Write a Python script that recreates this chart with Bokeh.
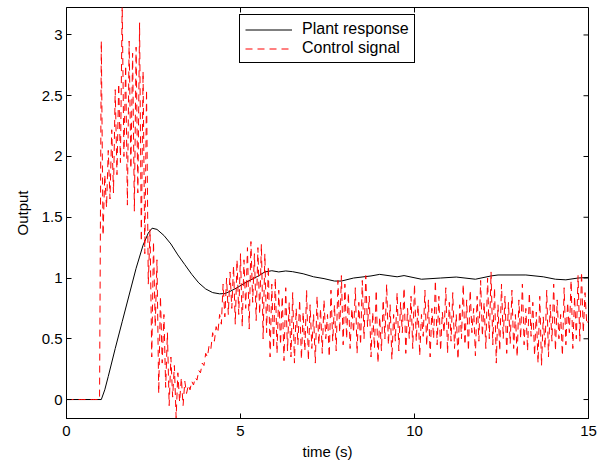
import numpy as np
from bokeh.plotting import figure
from bokeh.models import Range1d, FixedTicker, Legend, LegendItem
from bokeh.embed import file_html
from bokeh.resources import INLINE

# ---------------- data ----------------
dt_control = 0.05  # sample spacing of the control signal (s)
control = [
    0, 0, 0, 0, 0, 0, 0, 0, 0, 0,
    0, 0, 0, 0, 0, 0, 0, 0, 0, 0,
    2.95, 1.35, 1.85, 1.58, 2.05, 1.65, 2.22, 1.7, 2.55, 1.85,
    2.6, 1.95, 3.25, 2.0, 2.75, 1.6, 2.95, 1.9, 2.85, 1.55,
    2.9, 1.7, 3.1, 1.3, 2.7, 1.2, 2.55, 0.95, 1.4, 0.35,
    1.3, 0.6, 1.15, 0.05, 0.85, 0.3, 0.7, 0.1, 0.55, -0.05,
    0.35, 0.02, 0.28, -0.15, 0.22, -0.02, 0.18, -0.05, 0.15, 0.05,
    0.12, 0.08, 0.15, 0.12, 0.18, 0.16, 0.24, 0.22, 0.3, 0.28,
    0.38, 0.35, 0.45, 0.42, 0.55, 0.48, 0.6, 0.55, 0.7, 0.62,
    0.95, 0.68, 1.0, 0.7, 1.05, 0.75, 1.1, 0.62, 1.15, 0.7,
    1.2, 0.6, 1.15, 0.75, 1.25, 0.58, 1.3, 0.8, 1.2, 0.65,
    1.25, 0.7, 1.28, 0.5, 1.2, 0.55, 1.1, 0.35, 0.95, 0.42,
    1.0, 0.38, 0.9, 0.45, 0.85, 0.32, 0.92, 0.4, 0.8, 0.35,
    0.88, 0.3, 0.75, 0.45, 0.82, 0.33, 0.72, 0.4, 0.9, 0.32,
    0.78, 0.42, 0.7, 0.3, 0.85, 0.45, 0.75, 0.38, 0.82, 0.5,
    0.7, 0.35, 0.9, 0.48, 0.78, 0.4, 0.98, 0.55, 1.02, 0.45,
    0.95, 0.5, 0.88, 0.42, 0.75, 0.55, 0.92, 0.38, 0.8, 0.45,
    0.98, 0.5, 1.02, 0.6, 0.85, 0.35, 0.72, 0.42, 0.9, 0.3,
    0.68, 0.4, 0.82, 0.5, 0.95, 0.45, 0.78, 0.33, 0.7, 0.48,
    0.88, 0.4, 0.8, 0.55, 0.92, 0.38, 0.75, 0.5, 0.85, 0.42,
    0.95, 0.48, 0.78, 0.36, 0.7, 0.52, 0.9, 0.44, 0.82, 0.35,
    0.75, 0.5, 0.98, 0.45, 0.85, 0.4, 0.72, 0.55, 0.92, 0.38,
    0.8, 0.48, 0.88, 0.42, 0.7, 0.33, 0.78, 0.5, 0.95, 0.45,
    0.82, 0.4, 0.9, 0.55, 0.75, 0.36, 0.85, 0.48, 0.98, 0.52,
    0.8, 0.42, 1.0, 0.5, 1.05, 0.45, 0.92, 0.3, 0.78, 0.4,
    0.95, 0.5, 0.85, 0.38, 0.8, 0.46, 0.9, 0.42, 0.7, 0.35,
    0.82, 0.5, 0.95, 0.45, 0.75, 0.4, 0.88, 0.52, 0.8, 0.36,
    0.72, 0.3, 0.85, 0.28, 0.68, 0.42, 0.9, 0.35, 0.78, 0.48,
    0.95, 0.4, 0.82, 0.5, 0.7, 0.36, 0.92, 0.45, 0.8, 0.55,
    0.98, 0.42, 0.85, 0.5, 1.02, 0.48, 1.05, 0.55, 0.88, 0.62,
    0.65,
]
t_control = np.arange(len(control)) * dt_control

t_plant = [0, 1.0, 1.1, 1.2, 1.4, 1.6, 1.8, 2.0, 2.2, 2.35, 2.46, 2.6, 2.8,
           3.0, 3.2, 3.4, 3.6, 3.8, 4.0, 4.2, 4.4, 4.55, 4.7, 4.9, 5.1, 5.3,
           5.5, 5.7, 5.9, 6.1, 6.3, 6.5, 6.8, 7.1, 7.4, 7.7, 7.9, 8.25, 8.75,
           9.0, 9.5, 9.7, 10.2, 10.75, 11.2, 11.75, 12.2, 12.4, 13.2, 13.7,
           14.05, 14.35, 14.7, 15.0]
plant = [0, 0, 0.08, 0.19, 0.42, 0.64, 0.86, 1.08, 1.27, 1.37, 1.41, 1.40,
         1.35, 1.28, 1.19, 1.11, 1.03, 0.96, 0.91, 0.88, 0.87, 0.872, 0.89,
         0.92, 0.955, 0.985, 1.015, 1.05, 1.06, 1.05, 1.058, 1.052, 1.035,
         1.01, 0.995, 0.975, 0.975, 1.0, 1.017, 1.03, 1.01, 1.02, 0.99, 1.0,
         1.008, 0.99, 1.017, 1.025, 1.025, 1.01, 0.99, 0.985, 1.0, 1.005]

x_ticks = [0, 5, 10, 15]
x_tick_labels = ["0", "5", "10", "15"]
y_ticks = [0, 0.5, 1, 1.5, 2, 2.5, 3]
y_tick_labels = ["0", "0.5", "1", "1.5", "2", "2.5", "3"]
x_label = "time (s)"
y_label = "Output"
series_names = ["Plant response", "Control signal"]

FONT = "Liberation Sans"
X_MIN, X_MAX = 0, 15
Y_MIN, Y_MAX = -0.156, 3.226

p = figure(width=610, height=464, output_backend="svg", toolbar_location=None,
           x_range=Range1d(X_MIN, X_MAX), y_range=Range1d(Y_MIN, Y_MAX),
           min_border_left=66, min_border_right=22, min_border_top=7,
           min_border_bottom=46)
p.grid.visible = False
p.outline_line_color = "black"
p.outline_line_width = 1
p.outline_line_alpha = 1
p.background_fill_color = "white"
p.border_fill_color = "white"


def style_axis(ax, ticks, labels):
    ax.ticker = FixedTicker(ticks=ticks)
    ax.major_tick_in = 5
    ax.major_tick_out = 0
    ax.minor_tick_line_color = None
    ax.axis_line_color = "black"
    ax.major_tick_line_color = "black"
    ax.major_label_text_font = FONT
    ax.major_label_text_color = "black"
    ax.major_label_text_font_size = "15px"
    ax.major_label_overrides = {tv: tl for tv, tl in zip(ticks, labels)}
    ax.axis_label_text_font = FONT
    ax.axis_label_text_font_style = "normal"
    ax.axis_label_text_color = "black"
    ax.axis_label_text_font_size = "15px"


xa = p.xaxis[0]
style_axis(xa, x_ticks, x_tick_labels)
xa.axis_label = x_label
xa.major_label_standoff = 7
xa.axis_label_standoff = 4

ya = p.yaxis[0]
style_axis(ya, y_ticks, y_tick_labels)
ya.axis_label = y_label
ya.major_label_standoff = 4
ya.axis_label_standoff = 8

# inward tick marks on the top and right edges of the box (MATLAB style)
p.ray(x=x_ticks, y=[Y_MAX] * len(x_ticks), length=5, length_units="screen",
      angle=-np.pi / 2, line_color="black", line_width=1)
p.ray(x=[X_MAX] * len(y_ticks), y=y_ticks, length=5, length_units="screen",
      angle=np.pi, line_color="black", line_width=1)

r_plant = p.line(t_plant, plant, line_color="black", line_width=1)
r_ctrl = p.line(t_control, control, line_color="red", line_width=1,
                line_dash="7 5")

legend = Legend(items=[LegendItem(label=series_names[0], renderers=[r_plant]),
                       LegendItem(label=series_names[1], renderers=[r_ctrl])],
                location=(173, 355))
legend.border_line_color = "black"
legend.border_line_width = 1
legend.border_line_alpha = 1
legend.background_fill_color = "white"
legend.background_fill_alpha = 1
legend.padding = 5
legend.spacing = 1
legend.margin = 0
legend.glyph_width = 47
legend.glyph_height = 17
legend.label_height = 17
legend.label_width = 107
legend.label_standoff = 10
legend.label_text_font = FONT
legend.label_text_font_size = "16px"
legend.label_text_color = "black"
p.add_layout(legend)

open("out.html", "w").write(file_html(p, INLINE))
